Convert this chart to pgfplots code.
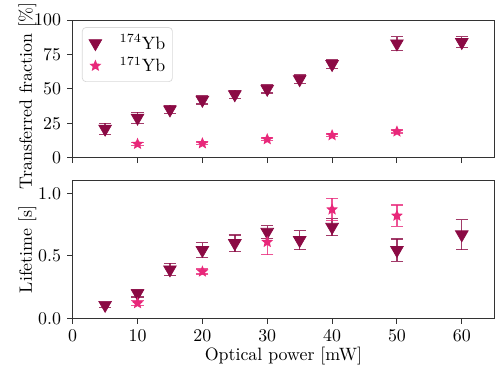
\documentclass[border=0pt]{standalone}
\usepackage{pgfplots}
\pgfplotsset{compat=1.18}

\definecolor{ybdark}{HTML}{8B0A44}
\definecolor{ybpink}{HTML}{E8287A}

% filled five-pointed star
\pgfdeclareplotmark{fstar}{%
  \pgfpathmoveto{\pgfqpointpolar{90}{\pgfplotmarksize}}%
  \pgfpathlineto{\pgfqpointpolar{126}{0.45\pgfplotmarksize}}%
  \pgfpathlineto{\pgfqpointpolar{162}{\pgfplotmarksize}}%
  \pgfpathlineto{\pgfqpointpolar{198}{0.45\pgfplotmarksize}}%
  \pgfpathlineto{\pgfqpointpolar{234}{\pgfplotmarksize}}%
  \pgfpathlineto{\pgfqpointpolar{270}{0.45\pgfplotmarksize}}%
  \pgfpathlineto{\pgfqpointpolar{306}{\pgfplotmarksize}}%
  \pgfpathlineto{\pgfqpointpolar{342}{0.45\pgfplotmarksize}}%
  \pgfpathlineto{\pgfqpointpolar{18}{\pgfplotmarksize}}%
  \pgfpathlineto{\pgfqpointpolar{54}{0.45\pgfplotmarksize}}%
  \pgfpathclose
  \pgfusepathqfill
}

% transferred fraction [%]
\pgfplotstableread{
x   y    e
5   21   4
10  29   4
15  35   3
20  42   3
25  46   3
30  50   3
35  57   3
40  68   3
50  83   5
60  84   4
}\fracA
\pgfplotstableread{
x   y    e
10  10   1
20  10.4 1
30  13.4 1
40  16.3 1
50  19   1
}\fracB
% lifetime [s]
\pgfplotstableread{
x   y     e
5   0.106 0.02
10  0.20  0.03
15  0.39  0.05
20  0.545 0.06
25  0.60  0.067
30  0.69  0.05
35  0.625 0.077
40  0.73  0.07
50  0.545 0.09
60  0.67  0.12
}\lifeA
\pgfplotstableread{
x   y     e
10  0.12  0.02
20  0.373 0.02
30  0.61  0.10
40  0.87  0.09
50  0.82  0.085
}\lifeB

\pgfplotsset{
  panel/.style={
    scale only axis, width=236pt, height=77pt,
    xmin=0, xmax=65, xtick={0,10,...,60},
    axis line style={black!80, line width=0.5pt},
    tick align=outside, tick pos=left,
    major tick length=3pt,
    tick style={black!80, line width=0.5pt},
    every axis y label/.style={at={(axis description cs:0,0.5)},
      xshift=-22.8pt, rotate=90, anchor=base},
    every axis x label/.style={at={(axis description cs:0.5,0)},
      anchor=base, yshift=-23.4pt},
  },
  markimg/.style={legend image code/.code={%
    \draw[##1] plot coordinates {(0cm,0cm)};
    \path (-0.18cm,0cm) (0.4cm,0cm);}},
  darkser/.style={only marks, color=ybdark,
    mark=triangle*, mark size=4.1pt,
    mark options={rotate=180, fill=ybdark, draw=ybdark},
    markimg,
    error bars/.cd, y dir=both, y explicit,
    error bar style={ybdark, opacity=0.8, line width=0.8pt},
    error mark options={rotate=90, mark size=3.4pt, line width=0.8pt, opacity=0.8}},
  pinkser/.style={only marks, color=ybpink,
    mark=fstar, mark size=3.5pt,
    mark options={fill=ybpink, draw=ybpink},
    markimg,
    error bars/.cd, y dir=both, y explicit,
    error bar style={ybpink, opacity=0.8, line width=0.8pt},
    error mark options={rotate=90, mark size=3.4pt, line width=0.8pt, opacity=0.8}},
}

\begin{document}
\begin{tikzpicture}
\path[use as bounding box] (-40.7pt,-117.2pt) rectangle (239.8pt,88.3pt);

\begin{axis}[panel, at={(0,0)}, anchor=south west,
  ymin=0, ymax=100, ytick={0,25,50,75,100},
  xticklabels={},
  ylabel={Transferred fraction [\%]},
  ylabel style={xshift=-4pt},
  legend cell align=left,
  legend style={at={(0.022,0.949)}, anchor=north west,
    draw=black!15, rounded corners=2pt, inner sep=2pt,
    row sep=-1pt, font=\normalsize},
]
\addplot+[darkser] table[x=x, y=y, y error=e] {\fracA};
\addlegendentry{$^{174}$Yb}
\addplot+[pinkser] table[x=x, y=y, y error=e] {\fracB};
\addlegendentry{$^{171}$Yb}
\end{axis}

\begin{axis}[panel, at={(0,-89.9pt)}, anchor=south west,
  ymin=0, ymax=1.1, ytick={0,0.5,1.0},
  yticklabel style={/pgf/number format/.cd, fixed, fixed zerofill, precision=1},
  ylabel={Lifetime [s]},
  xlabel={Optical power [mW]},
]
\addplot+[darkser] table[x=x, y=y, y error=e] {\lifeA};
\addplot+[pinkser] table[x=x, y=y, y error=e] {\lifeB};
\end{axis}
\end{tikzpicture}
\end{document}
